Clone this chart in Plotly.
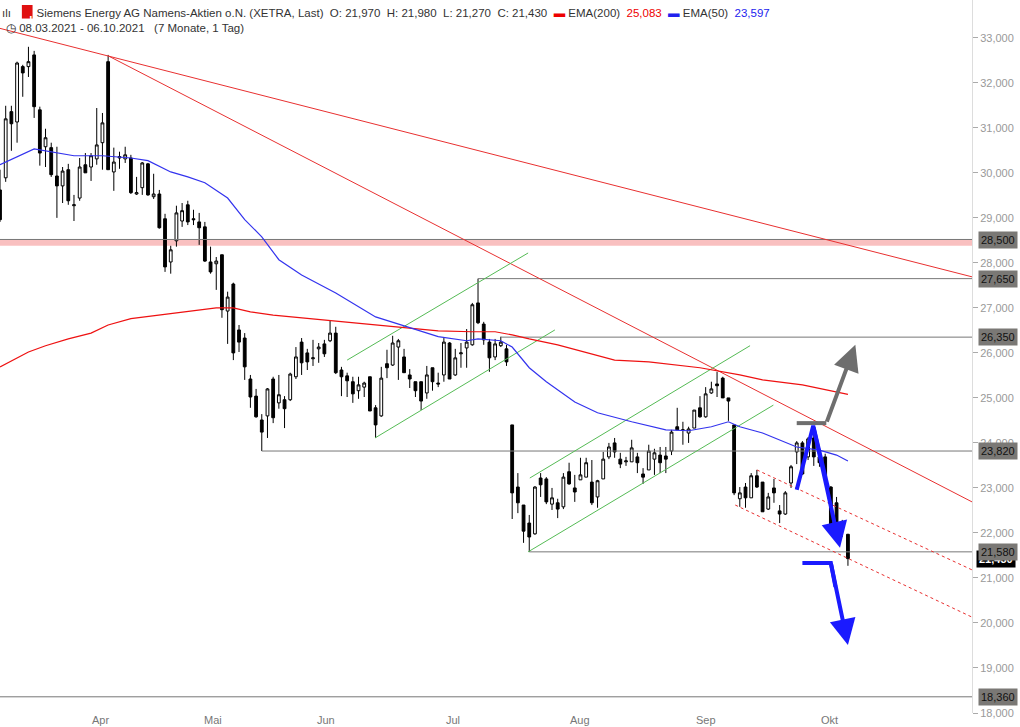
import plotly.graph_objects as go

O = [29.62,29.89,31.36,31.13,32.36,32.36,32.62,31.40,30.58,30.56,29.93,29.71,30.07,29.27,29.44,30.18,30.13,30.31,30.67,32.47,
     30.02,30.33,30.31,30.33,29.53,29.67,30.20,29.47,29.53,28.98,28.02,28.49,28.93,29.29,28.98,28.91,28.80,28.02,27.98,28.18,
     26.93,27.53,26.51,26.33,25.42,25.04,24.51,24.60,25.42,24.89,24.96,24.96,25.47,26.24,26.00,25.87,26.09,26.20,26.27,26.44,
     25.62,25.49,25.36,25.16,25.24,25.47,24.78,24.60,25.76,25.73,26.13,25.91,25.51,25.36,25.36,25.11,25.67,25.33,25.51,26.22,
     25.51,25.98,26.11,26.18,27.11,26.64,26.24,25.91,26.16,26.09,24.40,23.02,22.62,22.22,21.98,23.22,23.20,22.64,22.67,22.58,
     23.36,23.00,23.18,23.24,23.13,22.80,23.20,23.69,24.00,23.64,23.58,23.58,23.69,23.31,23.40,23.64,23.73,23.71,23.82,24.36,
     24.29,24.22,24.33,24.78,24.58,25.11,25.31,25.44,25.00,24.40,22.76,23.02,22.78,23.27,23.13,22.53,23.00,22.49,22.42,23.11,
     23.80,24.00,23.69,24.11,23.69,23.69,23.02,22.67,22.18,21.97]
H = [30.07,31.49,31.49,32.47,32.40,32.80,32.71,31.47,30.98,30.67,30.58,30.13,30.20,29.51,30.33,30.44,30.44,31.44,31.33,32.62,
     30.56,30.47,30.58,30.40,29.91,30.24,30.22,29.98,29.62,29.09,28.38,29.27,29.33,29.38,29.18,29.11,28.91,28.36,28.13,28.18,
     27.36,27.56,26.62,26.44,25.51,25.20,24.64,25.22,25.47,25.51,25.04,25.56,26.13,26.33,26.09,26.29,26.22,26.29,26.73,26.58,
     25.69,25.56,25.47,25.47,25.36,25.47,24.84,25.69,26.07,26.38,26.31,26.09,25.64,25.36,25.36,25.71,25.67,25.56,26.33,26.24,
     26.09,26.22,26.53,27.11,27.65,26.69,26.31,26.31,26.36,26.18,24.40,23.33,22.62,22.40,23.04,23.33,23.24,23.00,22.76,23.33,
     23.56,23.29,23.67,23.67,23.62,23.18,23.80,24.00,24.11,23.78,23.69,24.07,23.78,23.44,23.96,23.87,23.91,23.91,24.29,24.78,
     24.47,24.36,24.73,25.04,25.24,25.36,25.58,25.47,25.00,24.40,23.02,23.11,23.33,23.40,23.13,22.89,23.20,22.62,22.93,23.51,
     24.04,24.04,24.13,24.22,23.71,23.76,23.04,22.80,22.29,21.98]
L = [28.91,29.80,30.49,30.67,31.69,32.13,31.22,30.16,30.13,29.91,29.00,29.33,29.29,28.93,29.38,30.00,29.82,30.18,30.07,30.07,
     29.60,30.09,30.22,29.53,29.51,29.51,29.49,29.42,28.76,27.80,27.76,28.36,28.80,28.84,28.84,28.40,28.02,27.76,27.40,26.78,
     26.20,25.84,26.02,25.40,24.78,24.56,23.82,24.11,24.44,24.76,24.33,24.93,25.42,25.51,25.62,25.71,25.78,25.91,26.24,25.53,
     25.04,25.02,24.89,24.98,25.02,24.71,24.11,24.58,25.44,25.71,25.40,25.56,25.22,25.02,24.73,24.98,25.16,25.24,25.36,25.42,
     25.49,25.67,25.67,26.16,26.64,26.18,25.58,25.84,26.13,25.71,22.31,22.44,21.78,21.58,21.96,22.80,22.64,22.51,22.33,22.53,
     23.07,22.69,23.18,23.24,22.62,22.56,23.20,23.64,23.67,23.44,23.49,23.58,23.33,23.09,23.40,23.29,23.33,23.33,23.73,24.29,
     23.96,24.00,24.33,24.56,24.56,25.09,25.02,25.00,24.49,22.84,22.58,22.56,22.78,23.00,22.47,22.51,22.67,22.22,22.40,23.00,
     23.53,23.29,23.62,23.49,23.47,23.13,22.07,22.02,21.91,21.27]
C = [28.96,31.20,31.09,32.44,32.22,32.47,31.47,30.44,30.78,29.96,29.71,30.04,29.38,29.29,30.13,30.00,30.38,30.62,31.11,30.07,
     30.24,30.36,30.40,29.56,29.56,30.22,29.51,29.53,28.78,27.91,28.29,29.11,29.16,28.91,28.96,28.78,28.04,27.80,28.04,26.96,
     27.24,26.00,26.24,25.69,25.02,24.58,24.24,25.20,24.56,25.07,24.76,25.53,25.91,25.78,25.80,25.89,26.13,25.98,26.44,25.56,
     25.47,25.38,25.09,25.29,25.33,24.71,24.40,25.44,25.67,26.22,26.27,25.56,25.42,25.16,24.93,25.51,25.36,25.31,26.24,25.42,
     25.89,26.00,26.24,27.07,26.67,26.29,25.89,26.20,26.24,25.80,22.89,22.67,22.04,21.91,23.02,23.07,22.69,22.78,22.53,23.24,
     23.09,22.91,23.29,23.56,22.67,23.16,23.64,23.91,23.80,23.53,23.60,23.89,23.56,23.24,23.82,23.78,23.56,23.64,24.24,24.29,
     24.29,24.31,24.73,24.58,25.09,25.20,25.27,25.00,24.93,22.89,22.89,22.78,23.27,23.02,22.47,22.80,22.89,22.42,22.89,23.47,
     24.00,23.31,24.09,23.69,23.56,23.20,22.13,22.18,22.20,21.43]

ema50_i = [0,6,13,18,23,26,30,33,36,40,43,46,49,53,59,66,72,77,82,84,88,90,93,96,101,105,111,117,121,125,128,130,134,140,144,147,149]
ema50_v = [30.18,30.53,30.38,30.38,30.33,30.27,30.02,29.91,29.78,29.44,28.96,28.58,28.07,27.73,27.33,26.80,26.56,26.36,26.27,26.31,26.27,26.13,25.67,25.36,24.91,24.67,24.47,24.29,24.27,24.36,24.47,24.36,24.22,23.91,23.84,23.73,23.60]
ema200_i = [0,5,8,12,16,19,23,28,33,38,41,44,48,57,66,72,77,83,87,90,93,98,108,114,123,130,134,141,149]
ema200_v = [25.69,26.02,26.16,26.31,26.44,26.62,26.76,26.84,26.91,27.00,27.00,26.91,26.84,26.73,26.62,26.56,26.49,26.47,26.47,26.40,26.31,26.18,25.84,25.80,25.67,25.51,25.40,25.29,25.08]

month_pos = [17.6,37.4,57.3,79.6,102,124,145.7]
month_lbl = ["Apr","Mai","Jun","Jul","Aug","Sep","Okt"]
y_ticks = list(range(18,34))
XR = 170.8

levels = [27.65,26.35,23.82,21.58,18.36]
level_start = [84,88,46,93,0]
band = 28.50

fig = go.Figure()
RED = "#e83030"
def seg(xs, ys, color, width=1, dash=None):
    fig.add_trace(go.Scatter(x=xs, y=ys, mode="lines", line=dict(color=color, width=width, dash=dash), hoverinfo="skip", showlegend=False))

fig.add_shape(type="rect", x0=0, x1=XR, y0=band-0.12, y1=band+0.02, fillcolor="rgba(245,150,150,0.6)", line_width=0, layer="below")
seg([0,XR],[band+0.02,band+0.02],"#777",1)
for v,s in zip(levels, level_start):
    seg([s,XR],[v,v],"#777",1)
seg([0,XR],[33.21,27.69],RED,1)
seg([19,XR],[32.6,22.69],RED,1)
seg([133,XR],[23.4,21.18],RED,1,"dot")
seg([129.2,XR],[22.62,20.13],RED,1,"dot")
G="#55bb55"
seg([61,92.8],[25.84,28.22],G); seg([65.9,97.5],[24.11,26.51],G)
seg([93.1,131.8],[23.22,26.16],G); seg([92.8,135.9],[21.58,24.84],G)
seg(ema200_i, ema200_v, "#ee1111", 1.2)
seg(ema50_i, ema50_v, "#3333ee", 1.2)

fig.add_trace(go.Candlestick(x=list(range(len(C))), open=O, high=H, low=L, close=C,
    increasing=dict(line=dict(color="black", width=1), fillcolor="white"),
    decreasing=dict(line=dict(color="black", width=1), fillcolor="black"),
    whiskerwidth=0, hoverinfo="skip", showlegend=False))

GR="#6e6e6e"; BL="#1a1aff"
seg([140,145.2],[24.44,24.44],GR,4)
seg([140,142.9,145.5],[22.96,24.38,23.0],BL,4)
seg([141,146,146.8],[21.33,21.33,20.8],BL,4)
def arrow(x0,y0,x1,y1,c):
    fig.add_annotation(x=x1,y=y1,ax=x0,ay=y0,xref="x",yref="y",axref="x",ayref="y",text="",
        showarrow=True,arrowhead=2,arrowsize=1.3,arrowwidth=4,arrowcolor=c)
arrow(145.2,24.44,150.3,26.18,GR)
arrow(142.9,24.38,147.6,21.67,BL)
arrow(146,21.33,149,19.51,BL)

FONT="Liberation Sans"
fig.add_annotation(xref="paper", x=1.0, y=21.43, yref="y", text="<b>21,430</b>", showarrow=False, xanchor="left",
    xshift=4, bgcolor="black", font=dict(color="white", size=11, family=FONT), borderpad=2)
for v in [28.5,27.65,26.35,23.82,21.58,18.36]:
    fig.add_annotation(xref="paper", x=1.0, y=v, yref="y", text=f"{v:.3f}".replace(".",","), showarrow=False,
        xanchor="left", xshift=6, bgcolor="#7a7875", font=dict(color="#111", size=11, family=FONT), borderpad=2)

for p,l in zip(month_pos, month_lbl):
    fig.add_annotation(x=p, y=0, xref="x", yref="paper", text=l, showarrow=False, yanchor="top", yshift=1,
        font=dict(size=11, color="#777", family=FONT))

# header
fig.add_shape(type="rect", xref="paper", yref="paper", x0=0.0225, x1=0.0335, y0=0.974, y1=0.993, fillcolor="#e01010", line_width=0)
fig.add_annotation(xref="paper", yref="paper", x=0.028, y=0.9835, showarrow=False, text="<b>!</b>", font=dict(color="white", size=11, family=FONT))
fig.add_annotation(xref="paper", yref="paper", x=0.0, y=1.0, xanchor="left", yanchor="top", showarrow=False, align="left",
    text="<span style='color:#333'>ılı</span>        Siemens Energy AG Namens-Aktien o.N. (XETRA, Last)  O: 21,970  H: 21,980  L: 21,270  C: 21,430  "
         "<span style='color:#e00'>▬</span> EMA(200)  <span style='color:#e00'>25,083</span>  <span style='color:#22e'>▬</span> EMA(50)  <span style='color:#22e'>23,597</span>",
    font=dict(size=11.5, color="#333", family=FONT), yshift=-5)
fig.add_annotation(xref="paper", yref="paper", x=0.0, y=1.0, xanchor="left", yanchor="top", showarrow=False,
    text="◷ 08.03.2021 - 06.10.2021   (7 Monate, 1 Tag)", font=dict(size=11.5, color="#333", family=FONT), yshift=-20, xshift=4)

fig.update_layout(width=1020, height=727, margin=dict(l=0, r=48, t=0, b=14), plot_bgcolor="white", paper_bgcolor="white",
    xaxis=dict(range=[0,XR], rangeslider=dict(visible=False), showticklabels=False, showgrid=False,
               zeroline=False, ticks="", showline=False),
    yaxis=dict(side="right", range=[18.0,33.84], tickvals=y_ticks, ticktext=[f"{v},000" for v in y_ticks], showgrid=False,
               zeroline=False, ticks="outside", ticklen=5, tickcolor="#aaa", showline=True, linecolor="#ddd",
               tickfont=dict(size=11, color="#999", family=FONT)))
fig.write_html("out.html", config={"displayModeBar": False},
               post_script="document.body.style.margin='0';document.body.style.overflow='hidden';")
